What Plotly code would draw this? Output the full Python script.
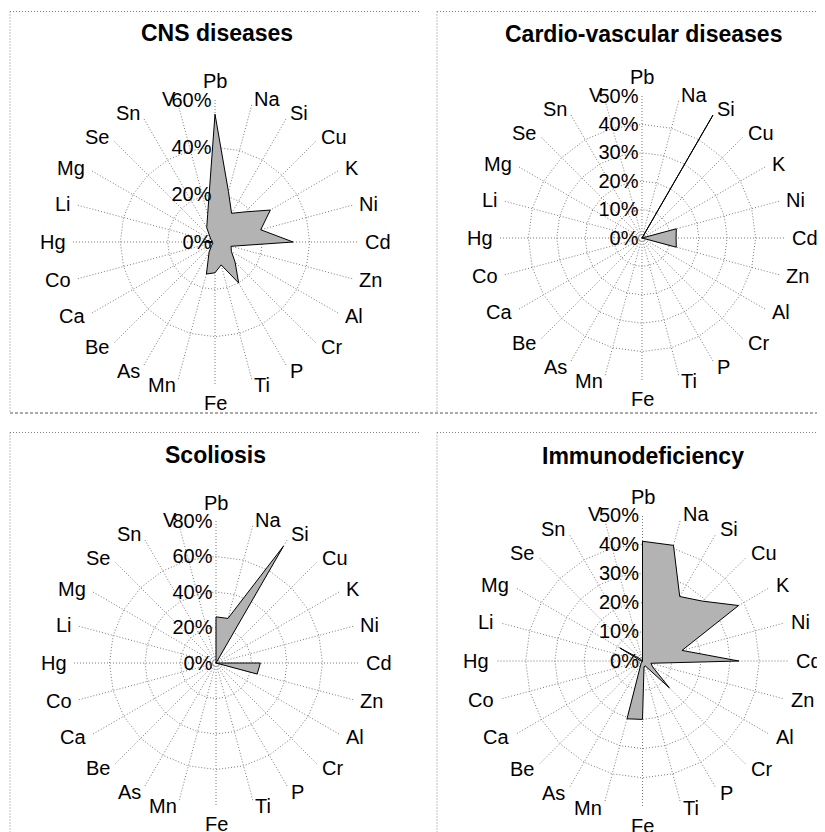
import math
import plotly.graph_objects as go

# The page adds an 8px body margin, so the figure is placed at (8, 8).
OFF = 8
W, H = 817, 824

categories = ['Pb', 'Na', 'Si', 'Cu', 'K', 'Ni', 'Cd', 'Zn', 'Al', 'Cr', 'P', 'Ti',
              'Fe', 'Mn', 'As', 'Be', 'Ca', 'Co', 'Hg', 'Li', 'Mg', 'Se', 'Sn', 'V']

titles = ['CNS diseases', 'Cardio-vascular diseases', 'Scoliosis', 'Immunodeficiency']

cns = [54, 22, 14, 18, 27, 20, 33, 7, 8, 12, 20, 10,
       13, 14, 5, 2, 1, 1, 5, 1, 2, 3, 7, 12]
cardio = [0, 0, 50, 0, 0, 12.5, 12, 12.5, 0, 0, 0, 0,
          0, 0, 0, 0, 0, 0, 0, 0, 0, 0, 0, 0]
scoliosis = [26, 26, 76, 0, 0, 0, 25, 24, 0, 0, 0, 0,
             0, 0, 0, 0, 0, 0, 0, 0, 0, 0, 0, 0]
immuno = [41, 41, 25.5, 29, 38, 14, 33, 3, 4, 13, 2, 2,
          20, 20.5, 1, 0, 0, 0, 0.5, 1, 9, 1, 0, 0]

cns_ticks = [0, 20, 40, 60]
cardio_ticks = [0, 10, 20, 30, 40, 50]
scoliosis_ticks = [0, 20, 40, 60, 80]
immuno_ticks = [0, 10, 20, 30, 40, 50]

series = [cns, cardio, scoliosis, immuno]
ticks = [cns_ticks, cardio_ticks, scoliosis_ticks, immuno_ticks]

# panel geometry in screen pixels: center x, center y, radius
geom = [(215, 242, 142), (642, 238, 142), (216, 663, 142), (642.5, 661, 146)]
title_pos = [(217, 33), (643, 34), (215, 455), (643, 456)]

FONT = 'Liberation Sans, Arial, sans-serif'
GRID = '#7a7a7a'
DOTS = '1px,2px'


def fx(px):
    return (px - OFF) / W


def fy(py):
    return 1 - (py - OFF) / H


fig = go.Figure()
layout = dict(width=W, height=H, margin=dict(l=0, r=0, t=0, b=0),
              paper_bgcolor='white', plot_bgcolor='white', showlegend=False,
              font=dict(family=FONT, color='black', size=20))

annotations = []
n = len(categories)
for i, (vals, tv, (cx, cy, R)) in enumerate(zip(series, ticks, geom)):
    key = 'polar' if i == 0 else f'polar{i+1}'
    fig.add_trace(go.Scatterpolar(
        r=vals + [vals[0]], theta=categories + [categories[0]],
        mode='lines', fill='toself', fillcolor='#b3b3b3',
        line=dict(color='black', width=1),
        subplot=key,
        hoverinfo='skip'))
    layout[key] = dict(
        domain=dict(x=[fx(cx - R), fx(cx + R)],
                    y=[fy(cy + R), fy(cy - R)]),
        gridshape='linear', bgcolor='rgba(0,0,0,0)',
        angularaxis=dict(type='category', categoryarray=categories,
                         direction='clockwise', rotation=90,
                         showline=False, gridcolor=GRID, griddash=DOTS,
                         gridwidth=1, ticks='', showticklabels=False),
        radialaxis=dict(range=[0, tv[-1]], tickvals=tv,
                        ticktext=[f'{v}%' for v in tv],
                        angle=90, tickangle=90, side='counterclockwise',
                        showline=False, gridcolor=GRID, griddash=DOTS,
                        gridwidth=1, ticks='',
                        tickfont=dict(size=20, color='black', family=FONT)))
    # category labels placed just outside the spoke ends (Excel style)
    d = R + 6.5
    for k, cat in enumerate(categories):
        ang = 360.0 * k / n
        a = math.radians(ang)
        px = cx + d * math.sin(a)
        py = cy - d * math.cos(a)
        if ang == 0:
            xa, ya = 'center', 'bottom'
        elif ang == 180:
            xa, ya = 'center', 'top'
        elif ang < 180:
            xa, ya = 'left', 'middle'
        else:
            xa, ya = 'right', 'middle'
        annotations.append(dict(text=cat, x=fx(px), y=fy(py), xref='paper',
                                yref='paper', showarrow=False, xanchor=xa,
                                yanchor=ya, borderpad=0,
                                font=dict(size=20, family=FONT, color='black')))

for t, (tx, ty) in zip(titles, title_pos):
    annotations.append(dict(text=f'<b>{t}</b>', x=fx(tx), y=fy(ty),
                            xref='paper', yref='paper', showarrow=False,
                            xanchor='center', yanchor='middle',
                            font=dict(size=23, family=FONT, color='black')))
layout['annotations'] = annotations


def px_line(x0, y0, x1, y1, color='#808080', dash=DOTS):
    return dict(type='line', xref='paper', yref='paper',
                x0=fx(x0), y0=fy(y0), x1=fx(x1), y1=fy(y1),
                line=dict(color=color, width=1, dash=dash))


shapes = [
    px_line(10, 11.5, 420, 11.5), px_line(10, 11.5, 10, 413),
    px_line(437, 11.5, 825, 11.5), px_line(437, 11.5, 437, 413),
    px_line(10, 413, 825, 413, color='#555', dash='3px,2px'),
    px_line(10, 432.5, 420, 432.5), px_line(10, 432.5, 10, 832),
    px_line(437, 432.5, 825, 432.5), px_line(437, 432.5, 437, 832),
]
layout['shapes'] = shapes

fig.update_layout(**layout)
fig.write_html('out.html')
